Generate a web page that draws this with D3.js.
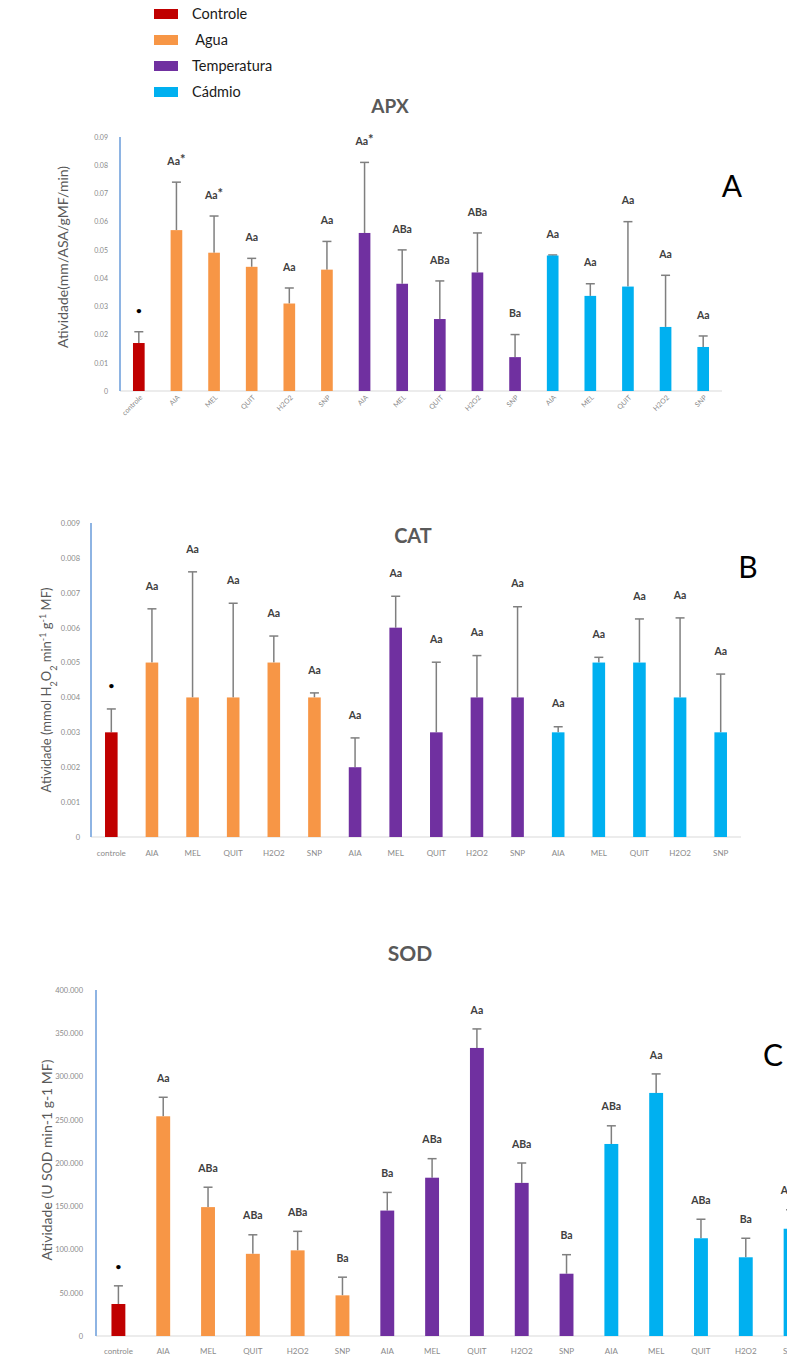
<!DOCTYPE html>
<html>
<head>
<meta charset="utf-8">
<script src="https://cdn.jsdelivr.net/npm/d3@7"></script>
<style>
  body { margin:0; background:#fff; }
  text { white-space: pre; }
</style>
</head>
<body>
<svg id="chart" width="787" height="1357"></svg>
<script>

// DATA
var categories = ["controle","AIA","MEL","QUIT","H2O2","SNP","AIA","MEL","QUIT","H2O2","SNP","AIA","MEL","QUIT","H2O2","SNP"];
var groups = ["Controle"," Agua","Temperatura","Cádmio"];
var groupOfBar = [0,1,1,1,1,1,2,2,2,2,2,3,3,3,3,3];

// APX
var apxValues = [0.017,0.057,0.049,0.044,0.031,0.043,0.056,0.038,0.0255,0.042,0.012,0.048,0.0337,0.037,0.0227,0.0156];
var apxErrTop = [0.021,0.074,0.062,0.047,0.0365,0.053,0.081,0.050,0.039,0.056,0.020,0.0482,0.038,0.060,0.041,0.0195];
var apxLetters = ["•","Aa*","Aa*","Aa","Aa","Aa","Aa*","ABa","ABa","ABa","Ba","Aa","Aa","Aa","Aa","Aa"];
var apxTicks = [0,0.01,0.02,0.03,0.04,0.05,0.06,0.07,0.08,0.09];

// CAT
var catValues = [0.003,0.005,0.004,0.004,0.005,0.004,0.002,0.006,0.003,0.004,0.004,0.003,0.005,0.005,0.004,0.003];
var catErrTop = [0.00367,0.00654,0.0076,0.0067,0.00576,0.00413,0.00284,0.0069,0.00501,0.0052,0.0066,0.00316,0.00515,0.00625,0.00628,0.00467];
var catLetters = ["•","Aa","Aa","Aa","Aa","Aa","Aa","Aa","Aa","Aa","Aa","Aa","Aa","Aa","Aa","Aa"];
var catTicks = [0,0.001,0.002,0.003,0.004,0.005,0.006,0.007,0.008,0.009];

// SOD
var sodValues = [37000,254000,149000,95000,99000,47000,145000,183000,333000,177000,72000,222000,281000,113000,91000,124000];
var sodErrTop = [58000,276000,172000,117000,121000,68000,166000,205000,355000,200000,94000,243000,303000,135000,113000,146000];
var sodLetters = ["•","Aa","ABa","ABa","ABa","Ba","Ba","ABa","Aa","ABa","Ba","ABa","Aa","ABa","Ba","ABa"];
var sodTicks = [0,50000,100000,150000,200000,250000,300000,350000,400000];

// STYLES
var groupColors = ["#C00000","#F79646","#7030A0","#00B0F0"];
var axisColor = "#8EB4E3";
var baseColor = "#D9D9D9";
var errColor = "#7F7F7F";
var tickColor = "#8a8a8a";
var titleColor = "#595959";
var letterColor = "#404040";
var fontFam = "Lato, 'Open Sans', sans-serif";

var svg = d3.select("#chart");

var ptBR = d3.formatLocale({decimal:",", thousands:".", grouping:[3], currency:["R$",""]});

// LEGEND
var legend = svg.append("g").attr("class","legend");
var legendY = d3.scalePoint().domain(d3.range(groups.length)).range([14,92]);
legend.selectAll("rect")
    .data(groups)
    .enter()
    .append("rect")
    .attr("x",154)
    .attr("y",(d,i) => legendY(i)-5)
    .attr("width",24)
    .attr("height",10)
    .attr("fill",(d,i) => groupColors[i]);
legend.selectAll("text")
    .data(groups)
    .enter()
    .append("text")
    .attr("x",192)
    .attr("y",(d,i) => legendY(i))
    .attr("dy","0.35em")
    .attr("font-family",fontFam)
    .attr("font-size",14.5)
    .attr("fill","#1a1a1a")
    .text(d => d);

// one panel = one bar chart with error bars
function drawPanel(p){
    var g = svg.append("g");
    var n = p.values.length;
    var pad = 0.69;
    var x = d3.scaleBand()
        .domain(d3.range(n))
        .range([p.x0, p.x1])
        .paddingInner(pad)
        .paddingOuter(pad/2);
    var y = d3.scaleLinear()
        .domain([0, p.max])
        .range([p.yBottom, p.yTop]);

    // tick labels (no tick marks)
    var yAxis = d3.axisLeft(y)
        .tickValues(p.ticks)
        .tickSize(0)
        .tickPadding(p.tickPad)
        .tickFormat(p.format);
    var ga = g.append("g")
        .attr("transform","translate(" + p.x0 + ",0)")
        .call(yAxis);
    ga.select(".domain").remove();
    ga.selectAll("text")
        .attr("font-family",fontFam)
        .attr("font-size",p.tickSize)
        .attr("fill",tickColor);

    // baseline + axis line
    g.append("line")
        .attr("x1",p.x0).attr("x2",p.baseEnd)
        .attr("y1",y(0)).attr("y2",y(0))
        .attr("stroke",baseColor).attr("stroke-width",1.2);
    g.append("line")
        .attr("x1",p.x0).attr("x2",p.x0)
        .attr("y1",y(0)).attr("y2",y(p.max))
        .attr("stroke",axisColor).attr("stroke-width",2);

    // error bars (upper only)
    var cap = 4.5;
    var err = g.append("g");
    err.selectAll("line.v")
        .data(p.values)
        .enter()
        .append("line")
        .attr("class","v")
        .attr("x1",(d,i) => x(i)+x.bandwidth()/2)
        .attr("x2",(d,i) => x(i)+x.bandwidth()/2)
        .attr("y1",d => y(d))
        .attr("y2",(d,i) => y(p.errTop[i]))
        .attr("stroke",errColor).attr("stroke-width",1.5);
    err.selectAll("line.c")
        .data(p.values)
        .enter()
        .append("line")
        .attr("class","c")
        .attr("x1",(d,i) => x(i)+x.bandwidth()/2-cap)
        .attr("x2",(d,i) => x(i)+x.bandwidth()/2+cap)
        .attr("y1",(d,i) => y(p.errTop[i]))
        .attr("y2",(d,i) => y(p.errTop[i]))
        .attr("stroke",errColor).attr("stroke-width",1.5);

    // bars
    g.append("g").selectAll("rect")
        .data(p.values)
        .enter()
        .append("rect")
        .attr("x",(d,i) => x(i))
        .attr("y",d => y(d))
        .attr("width",x.bandwidth())
        .attr("height",d => y(0)-y(d))
        .attr("fill",(d,i) => groupColors[groupOfBar[i]]);

    // significance letters (asterisk drawn a bit bigger, like the original)
    var lt = g.append("g").selectAll("text")
        .data(p.letters)
        .enter()
        .append("text")
        .attr("x",(d,i) => x(i)+x.bandwidth()/2)
        .attr("y",(d,i) => y(p.errTop[i]) - p.letterGap)
        .attr("text-anchor","middle")
        .attr("dy","0.35em")
        .attr("font-family",fontFam)
        .attr("font-weight","bold")
        .attr("font-size",d => d == "•" ? 10 : 10.5)
        .attr("fill",d => d == "•" ? "#000" : letterColor);
    lt.each(function(d){
        var t = d3.select(this);
        var base = d.replace("*","");
        t.append("tspan").text(base);
        if(d.indexOf("*") >= 0){
            t.append("tspan").attr("font-size",13).attr("dy","-1").text("*");
        }
    });

    // category labels
    var lab = g.append("g").selectAll("text")
        .data(categories)
        .enter()
        .append("text")
        .attr("font-family",fontFam)
        .attr("font-size",p.catSize)
        .attr("fill",tickColor)
        .text(d => d);
    if(p.rotate){
        lab.attr("text-anchor","end")
           .attr("transform",(d,i) => "translate(" + (x(i)+x.bandwidth()/2+4) + "," + (y(0)+7) + ") rotate(-45)");
    } else {
        lab.attr("text-anchor","middle")
           .attr("x",(d,i) => x(i)+x.bandwidth()/2)
           .attr("y",p.catY)
           .attr("dy","0.35em");
    }

    // title
    g.append("text")
        .attr("x",p.titleX).attr("y",p.titleY)
        .attr("text-anchor","middle").attr("dy","0.35em")
        .attr("font-family",fontFam).attr("font-weight","bold")
        .attr("font-size",p.titleSize).attr("fill",titleColor)
        .text(p.title);

    // panel letter
    g.append("text")
        .attr("x",p.letterX).attr("y",p.letterY)
        .attr("text-anchor","middle").attr("dy","0.35em")
        .attr("font-family",fontFam)
        .attr("font-size",30).attr("fill","#000")
        .text(p.panel);

    // y title
    var yt = g.append("text")
        .attr("transform","translate(" + p.yTitleX + "," + p.yTitleY + ") rotate(-90)")
        .attr("text-anchor","middle").attr("dy","0.35em")
        .attr("font-family",fontFam)
        .attr("font-size",p.yTitleSize).attr("fill",titleColor);
    p.yTitle.forEach(function(part){
        var t = yt.append("tspan").text(part[0]);
        if(part[1] == "sub") t.attr("font-size",p.yTitleSize*0.7).attr("baseline-shift","sub");
        if(part[1] == "sup") t.attr("font-size",p.yTitleSize*0.7).attr("baseline-shift","super");
    });
}

drawPanel({
    values: apxValues, errTop: apxErrTop, letters: apxLetters, ticks: apxTicks,
    max: 0.09, x0: 120, x1: 722, baseEnd: 722, yBottom: 391, yTop: 137,
    format: d => d == 0 ? "0" : d3.format(".2f")(d), tickPad: 12, tickSize: 7,
    letterGap: 21, rotate: true, catSize: 7,
    title: "APX", titleX: 390, titleY: 106, titleSize: 19,
    panel: "A", letterX: 732, letterY: 186,
    yTitle: [["Atividade(mm/ASA/gMF/min)"]], yTitleX: 63, yTitleY: 257, yTitleSize: 14
});

drawPanel({
    values: catValues, errTop: catErrTop, letters: catLetters, ticks: catTicks,
    max: 0.009, x0: 91, x1: 741, baseEnd: 741, yBottom: 837, yTop: 523,
    format: d => d == 0 ? "0" : d3.format(".3f")(d), tickPad: 11, tickSize: 7.5,
    letterGap: 23, rotate: false, catSize: 8, catY: 853,
    title: "CAT", titleX: 413, titleY: 536, titleSize: 20,
    panel: "B", letterX: 748, letterY: 567,
    yTitle: [["Atividade (mmol H"],["2","sub"],["O"],["2","sub"],[" min"],["-1","sup"],[" g"],["-1","sup"],[" MF)"]],
    yTitleX: 46, yTitleY: 690, yTitleSize: 13
});

drawPanel({
    values: sodValues, errTop: sodErrTop, letters: sodLetters, ticks: sodTicks,
    max: 400000, x0: 96, x1: 813, baseEnd: 787, yBottom: 1336, yTop: 990,
    format: ptBR.format(",.0f"), tickPad: 13, tickSize: 7.5,
    letterGap: 19, rotate: false, catSize: 8, catY: 1351,
    title: "SOD", titleX: 410, titleY: 954, titleSize: 21,
    panel: "C", letterX: 773, letterY: 1055,
    yTitle: [["Atividade (U SOD min-1 g-1 MF)"]], yTitleX: 47, yTitleY: 1160, yTitleSize: 14
});

</script>
</body>
</html>
